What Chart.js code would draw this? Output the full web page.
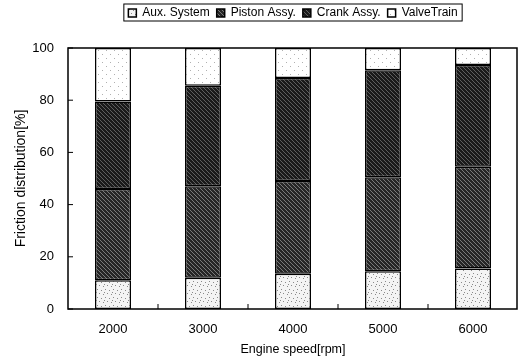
<!DOCTYPE html>
<html>
<head>
<meta charset="utf-8">
<script src="https://cdn.jsdelivr.net/npm/chart.js@4"></script>
<style>
  html, body { margin: 0; padding: 0; background: #fff; overflow: hidden; }
</style>
</head>
<body>
<canvas id="frictionCanvas" width="518" height="360"></canvas>
<script>
// data (percent of total friction)
const speeds = ['2000', '3000', '4000', '5000', '6000'];
const auxSystem  = [11, 12, 13.5, 14.5, 15.5];
const pistonAssy = [35, 35, 35.5, 36, 39];
const crankAssy  = [33.5, 38.5, 39.5, 41, 39];
const valveTrain = [20.5, 14.5, 11.5, 8.5, 6.5];
const yTicks = [0, 20, 40, 60, 80, 100];

const canvas = document.getElementById('frictionCanvas');
const mainCtx = canvas.getContext('2d');

// little tiles to fake the scanned hatch / stipple fills
function makePattern(bg, paint) {
    const tile = document.createElement('canvas');
    tile.width = 8;
    tile.height = 8;
    const g = tile.getContext('2d');
    g.fillStyle = bg;
    g.fillRect(0, 0, 8, 8);
    paint(g);
    return mainCtx.createPattern(tile, 'repeat');
}

function hatch(color) {
    return function (g) {
        g.strokeStyle = color;
        g.lineWidth = 1;
        for (let x = -8; x <= 8; x += 4) {
            g.beginPath();
            g.moveTo(x, 0);
            g.lineTo(x + 8, 8);
            g.stroke();
        }
    };
}

function dots(color, pts) {
    return function (g) {
        g.fillStyle = color;
        pts.forEach(p => g.fillRect(p[0], p[1], 1, 1));
    };
}

const auxFill = makePattern('#f4f4f4', dots('#8a8a8a', [[1, 1], [5, 2], [3, 5], [7, 6], [0, 4]]));
const pistonFill = makePattern('#262626', hatch('#7a7a7a'));
const crankFill = makePattern('#1a1a1a', hatch('#5e5e5e'));
const valveFill = makePattern('#ffffff', dots('#b0b0b0', [[2, 2], [6, 6]]));

// push the plot down below the legend
const legendSpace = {
    id: 'legendSpace',
    beforeInit(chart) {
        const origFit = chart.legend.fit;
        chart.legend.fit = function () {
            origFit.bind(chart.legend)();
            this.height = 48;
        };
    }
};

// frame, inward ticks and the box round the legend
const frameAndTicks = {
    id: 'frameAndTicks',
    afterDraw(chart) {
        const ctx = chart.ctx;
        const a = chart.chartArea;
        const xs = chart.scales.x;
        const ys = chart.scales.y;
        ctx.save();
        ctx.strokeStyle = '#000';
        ctx.lineWidth = 1.5;
        ctx.strokeRect(a.left, a.top, a.right - a.left - 1, a.bottom - a.top);

        ctx.lineWidth = 1;
        ys.ticks.forEach(t => {
            const py = ys.getPixelForValue(t.value);
            ctx.beginPath();
            ctx.moveTo(a.left, py);
            ctx.lineTo(a.left + 5, py);
            ctx.stroke();
        });
        for (let i = 1; i < speeds.length; i++) {
            const px = (xs.getPixelForValue(i - 1) + xs.getPixelForValue(i)) / 2;
            ctx.beginPath();
            ctx.moveTo(px, a.bottom);
            ctx.lineTo(px, a.bottom - 5);
            ctx.stroke();
        }

        const boxes = chart.legend.legendHitBoxes;
        if (boxes && boxes.length) {
            let l = Infinity, r = -Infinity, t = Infinity, b = -Infinity;
            boxes.forEach(h => {
                l = Math.min(l, h.left);
                r = Math.max(r, h.left + h.width);
                t = Math.min(t, h.top);
                b = Math.max(b, h.top + h.height);
            });
            ctx.lineWidth = 1;
            ctx.strokeRect(l - 4.5, t - 3, r - l + 9, b - t + 5);
        }
        ctx.restore();
    }
};

function series(label, data, fill) {
    return {
        label: label,
        data: data,
        backgroundColor: fill,
        borderColor: '#000',
        borderWidth: 1.5,
        borderSkipped: false,
        barPercentage: 0.4,
        categoryPercentage: 1.0
    };
}

const frictionChart = new Chart(canvas, {
    type: 'bar',
    data: {
        labels: speeds,
        datasets: [
            series('Aux. System', auxSystem, auxFill),
            series('Piston Assy.', pistonAssy, pistonFill),
            series('Crank Assy.', crankAssy, crankFill),
            series('ValveTrain', valveTrain, valveFill)
        ]
    },
    options: {
        responsive: false,
        animation: false,
        layout: { padding: { top: 0, right: 0, bottom: 0, left: 0 } },
        plugins: {
            legend: {
                position: 'top',
                fullSize: false,
                labels: {
                    color: '#000',
                    font: { family: 'Liberation Sans', size: 12 },
                    boxWidth: 8,
                    boxHeight: 8,
                    padding: 7
                }
            },
            tooltip: { enabled: false }
        },
        scales: {
            x: {
                stacked: true,
                grid: { display: false },
                border: { display: false },
                ticks: {
                    color: '#000',
                    font: { family: 'Liberation Sans', size: 13 },
                    padding: 5
                },
                title: {
                    display: true,
                    text: 'Engine speed[rpm]',
                    color: '#000',
                    font: { family: 'Liberation Sans', size: 12.5 },
                    padding: { top: 0, bottom: 3 }
                },
                afterFit(scale) { scale.height = 51; }
            },
            y: {
                stacked: true,
                min: 0,
                max: 100,
                afterBuildTicks(scale) {
                    scale.ticks = yTicks.map(v => ({ value: v }));
                },
                grid: { display: false },
                border: { display: false },
                ticks: {
                    color: '#000',
                    font: { family: 'Liberation Sans', size: 13 },
                    padding: 6
                },
                title: {
                    display: true,
                    text: 'Friction distribution[%]',
                    color: '#000',
                    font: { family: 'Liberation Sans', size: 14 },
                    padding: { top: 13, bottom: 0 }
                },
                afterFit(scale) { scale.width = 68; }
            }
        }
    },
    plugins: [legendSpace, frameAndTicks]
});
</script>
</body>
</html>
